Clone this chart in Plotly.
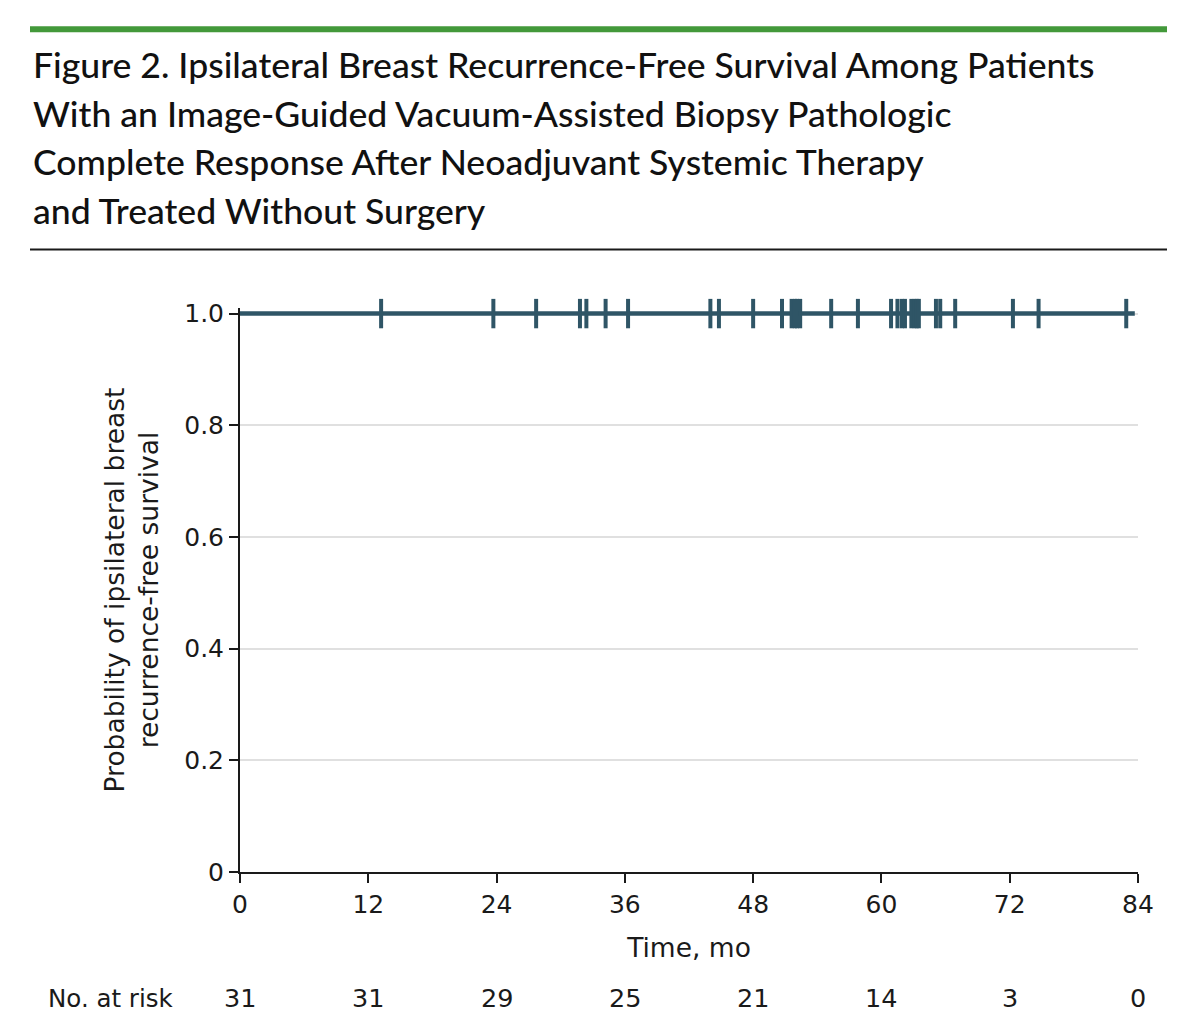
import plotly.graph_objects as go

# ---- data ----
km_time = [0, 83.7]
km_surv = [1.0, 1.0]
censor_times = [13.2, 23.7, 27.7, 31.8, 32.4, 34.2, 36.3,
                44.0, 44.8, 48.0, 50.7, 51.6, 51.9, 52.1, 52.4, 55.3, 57.8,
                60.9, 61.5, 61.9, 62.2, 62.8, 63.1, 63.3, 63.5, 65.1, 65.5, 66.9,
                72.3, 74.7, 82.9]
censor_surv = [1.0] * len(censor_times)
x_ticks = [0, 12, 24, 36, 48, 60, 72, 84]
y_ticks = [0, 0.2, 0.4, 0.6, 0.8, 1.0]
y_ticklabels = ["0", "0.2", "0.4", "0.6", "0.8", "1.0"]
at_risk = [31, 31, 29, 25, 21, 14, 3, 0]
title_lines = [
    "Figure 2. Ipsilateral Breast Recurrence-Free Survival Among Patients",
    "With an Image-Guided Vacuum-Assisted Biopsy Pathologic",
    "Complete Response After Neoadjuvant Systemic Therapy",
    "and Treated Without Surgery",
]

OFF = 8  # browser body margin
W, H = 1184, 1014
YMAX = 1.01
# page pixels: x 0 -> 240, x 84 -> 1138; y 0 -> 872, y 1.0 -> 314
X0P, X1P, Y0P, Y1P = 240, 1138, 872, 314
TOPP = Y0P - (Y0P - Y1P) * YMAX
L, R, T, B = X0P - OFF, X1P - OFF, TOPP - OFF, Y0P - OFF
def px(xp):  # page pixel -> paper
    return (xp - OFF - L) / (R - L)
def py(yp):
    return (B - (yp - OFF)) / (B - T)

CURVE = "#2f5566"
AXFONT = "DejaVu Sans"
TXT = "#1a1a1a"

fig = go.Figure()
fig.add_trace(go.Scatter(x=km_time, y=km_surv, mode="lines", line=dict(color=CURVE, width=4.5, shape="hv"),
                         cliponaxis=False, showlegend=False, hoverinfo="skip"))
fig.add_trace(go.Scatter(x=censor_times, y=censor_surv, mode="markers",
                         marker=dict(symbol="line-ns", size=21, line=dict(color=CURVE, width=4)),
                         cliponaxis=False, showlegend=False))

ann = []
title_y = [65, 114, 162, 211]
for t, yy in zip(title_lines, title_y):
    ann.append(dict(text=t, x=px(31), y=py(yy), xref="paper", yref="paper", xanchor="left", yanchor="middle",
                    showarrow=False, font=dict(family="Lato", size=35.6, weight=500, color="#111111")))
ann.append(dict(text="No. at risk", x=px(46), y=py(998), xref="paper", yref="paper", xanchor="left",
                yanchor="middle", showarrow=False, font=dict(family=AXFONT, size=24.5, color=TXT)))
for xt, n in zip(x_ticks, at_risk):
    ann.append(dict(text=str(n), x=xt, y=py(998), xref="x", yref="paper", xanchor="center", yanchor="middle",
                    showarrow=False, font=dict(family=AXFONT, size=25.5, color=TXT)))

shapes = [
    dict(type="rect", xref="paper", yref="paper", x0=px(30), x1=px(1167), y0=py(33), y1=py(27),
         fillcolor="#43993a", line=dict(width=0)),
    dict(type="line", xref="paper", yref="paper", x0=px(30), x1=px(1167), y0=py(250), y1=py(250),
         line=dict(color=TXT, width=2)),
]

fig.update_layout(
    width=W, height=H,
    margin=dict(l=L, r=W - R, t=T, b=H - B, pad=0),
    plot_bgcolor="white", paper_bgcolor="white",
    annotations=ann, shapes=shapes,
    xaxis=dict(range=[0, 84], tickvals=x_ticks, ticks="outside", ticklen=9, tickwidth=1.5, tickcolor=TXT,
               showline=True, linecolor=TXT, linewidth=2, showgrid=False, zeroline=False,
               tickfont=dict(family=AXFONT, size=25, color=TXT),
               title=dict(text="Time, mo", font=dict(family=AXFONT, size=26.5, color=TXT), standoff=20)),
    yaxis=dict(range=[0, YMAX], tickvals=y_ticks, ticktext=y_ticklabels, ticks="outside", ticklen=9,
               tickwidth=1.5, tickcolor=TXT,
               showline=True, linecolor=TXT, linewidth=2, showgrid=True, gridcolor="#e0e0e0", gridwidth=2,
               zeroline=False, tickfont=dict(family=AXFONT, size=25, color=TXT),
               title=dict(text="Probability of ipsilateral breast<br>recurrence-free survival",
                          font=dict(family=AXFONT, size=26.5, color=TXT), standoff=18)),
)

fig.write_html("out.html")
